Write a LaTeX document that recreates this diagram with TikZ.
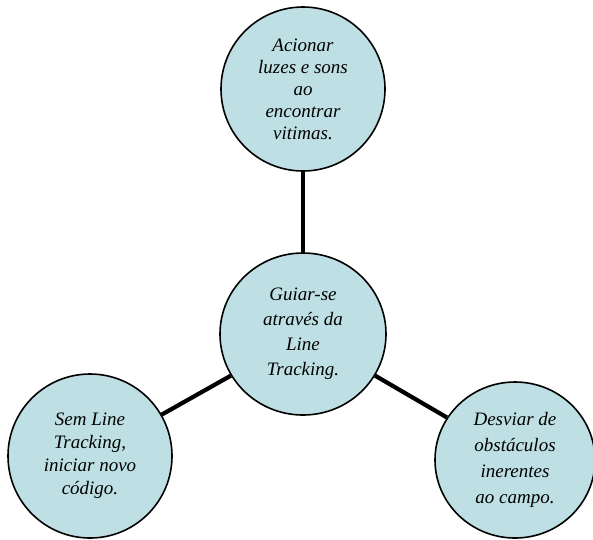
\documentclass[tikz,border=0pt]{standalone}
\usepackage{fontspec}
\setmainfont{Liberation Serif}
\usetikzlibrary{shapes.geometric}
\definecolor{bubble}{RGB}{190,224,228}
\tikzset{
  bub/.style={ellipse, draw=black, line width=1.6pt, fill=bubble, inner sep=0pt,
    align=center, font=\itshape\fontsize{19}{24}\selectfont},
  link/.style={line width=4.2pt, draw=black}
}
\begin{document}
\begin{tikzpicture}[x=1pt,y=-1pt]
\useasboundingbox (0,0) rectangle (593,539);
\node[bub, minimum width=164pt, minimum height=164pt, font=\itshape\fontsize{19}{22}\selectfont] (top) at (303,89)
  {Acionar\\luzes e sons\\ao\\encontrar\\vitimas.};
\node[bub, minimum width=166pt, minimum height=162pt, font=\itshape\fontsize{19}{25}\selectfont] (mid) at (303,334)
  {Guiar-se\\através da\\Line\\Tracking.};
\node[bub, minimum width=164pt, minimum height=164pt, font=\itshape\fontsize{19}{23}\selectfont] (left) at (90,456)
  {Sem Line\\Tracking,\\iniciar novo\\código.};
\node[bub, minimum width=160pt, minimum height=156pt, font=\itshape\fontsize{19}{26}\selectfont] (right) at (515,460)
  {Desviar de\\obstáculos\\inerentes\\ao campo.};
\draw[link] (top.south) -- (mid.north);
\draw[link] (mid.210) -- (left.30);
\draw[link] (mid.330) -- (right.148);
\end{tikzpicture}
\end{document}
